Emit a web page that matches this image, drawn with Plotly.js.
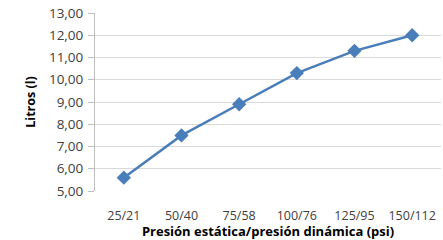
<!DOCTYPE html>
<html>
<head>
<meta charset="utf-8">
<script src="https://cdn.plot.ly/plotly-3.0.1.min.js"></script>
<style>html,body{margin:0;padding:0;background:#fff;}#chart{width:443px;height:240px;}</style>
</head>
<body>
<div id="chart"></div>
<script>
const categories = ["25/21", "50/40", "75/58", "100/76", "125/95", "150/112"];
const litros = [5.6, 7.5, 8.9, 10.3, 11.3, 12.0];
const yTickValues = [5, 6, 7, 8, 9, 10, 11, 12, 13];

const trace = {
  x: categories,
  y: litros,
  type: "scatter",
  mode: "lines+markers",
  line: {color: "#4A7EBB", width: 2.5},
  marker: {symbol: "diamond", size: 11, color: "#4A7EBB"},
  hoverinfo: "none"
};

const layout = {
  width: 443,
  height: 240,
  margin: {l: 95, r: 2, t: 13, b: 49},
  paper_bgcolor: "#ffffff",
  plot_bgcolor: "#ffffff",
  separators: ",.",
  showlegend: false,
  font: {family: "Open Sans, sans-serif", size: 13, color: "#404040"},
  xaxis: {
    type: "category",
    range: [-0.5, 5.5],
    showgrid: false,
    zeroline: false,
    showline: false,
    ticks: "",
    ticklabelstandoff: 15,
    tickfont: {size: 12.5, color: "#404040"},
    title: {text: "<b>Presión estática/presión dinámica (psi)</b>", font: {size: 13, color: "#000000"}, standoff: 0}
  },
  yaxis: {
    range: [5, 13],
    tickvals: yTickValues,
    tickformat: ".2f",
    showgrid: true,
    gridcolor: "#d9d9d9",
    gridwidth: 1,
    zeroline: false,
    showline: true,
    linecolor: "#bfbfbf",
    linewidth: 1,
    ticks: "outside",
    ticklen: 6,
    tickcolor: "#bfbfbf",
    ticklabelstandoff: 2,
    tickfont: {size: 13.5, color: "#404040"},
    title: {text: "<b>Litros (l)</b>", font: {size: 12.5, color: "#000000"}, standoff: 10}
  }
};

Plotly.newPlot("chart", [trace], layout, {displayModeBar: false, staticPlot: true});
</script>
</body>
</html>
